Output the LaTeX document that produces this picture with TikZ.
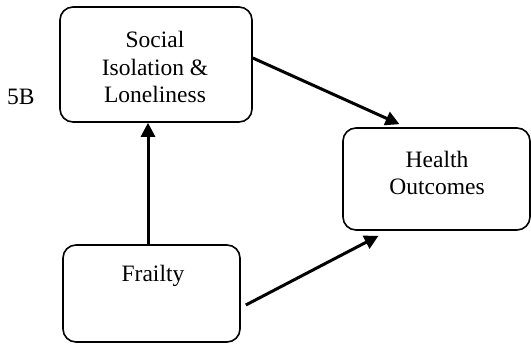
\documentclass[tikz,border=0pt]{standalone}
\usepackage{fontspec}
\setmainfont{Liberation Serif}
\usetikzlibrary{arrows.meta}
\begin{document}
\begin{tikzpicture}[x=1pt,y=-1pt,
  box/.style={draw=black,line width=1.6pt,rounded corners=13pt,fill=white,inner sep=0pt},
  lbl/.style={font=\fontsize{23.5}{27.5}\selectfont,align=center,inner sep=0pt},
  arr/.style={line width=3pt,-{Triangle[length=14pt,width=14pt]}}]
  \useasboundingbox (0,0) rectangle (531,349);
  % boxes
  \node[box,minimum width=192pt,minimum height=115pt] (social) at (156,64.5) {};
  \node[box,minimum width=187pt,minimum height=102pt] (health) at (436.5,179) {};
  \node[box,minimum width=177pt,minimum height=97pt] (frail) at (151.5,293.5) {};
  % texts
  \node[lbl] (tsocial) at (155,67) {Social\\Isolation \&\\Loneliness};
  \node[lbl] (thealth) at (437,173) {Health\\Outcomes};
  \node[lbl] (tfrail) at (153,276) {Frailty};
  \node[lbl,anchor=west] (tag) at (7,97) {5B};
  % connectors
  \draw[arr] ([xshift=-3.5pt]frail.north) -- ([xshift=-8pt]social.south);
  \draw[arr] ([yshift=6.5pt]social.east) -- ([xshift=-37pt,yshift=3pt]health.north);
  \draw[arr] ([xshift=5pt,yshift=-11.5pt]frail.east) -- ([xshift=-58pt,yshift=-5pt]health.south);
\end{tikzpicture}
\end{document}
